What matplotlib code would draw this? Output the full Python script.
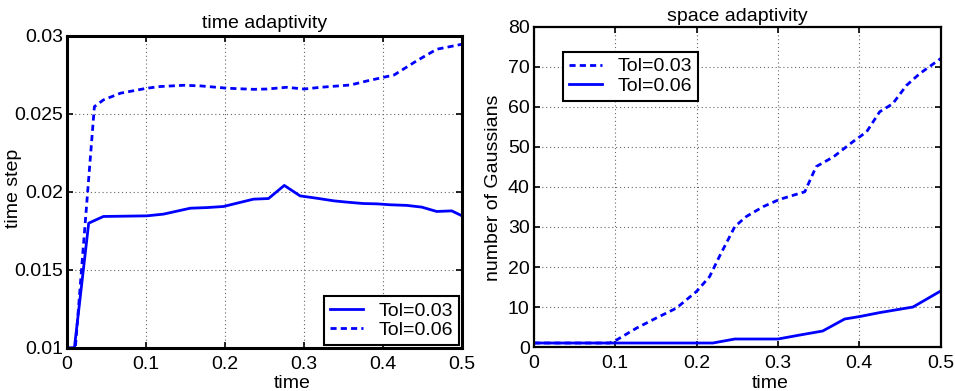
import matplotlib
matplotlib.use("Agg")
import matplotlib.pyplot as plt

plt.rcParams['font.family'] = ['Liberation Sans', 'DejaVu Sans']

# time adaptivity (left)
t_a = [0, 0.0093, 0.0274, 0.046, 0.101, 0.122, 0.156, 0.177, 0.198, 0.236, 0.255,
       0.275, 0.295, 0.316, 0.338, 0.354, 0.375, 0.392, 0.409, 0.430, 0.449, 0.468,
       0.487, 0.5]
dt_a = [0.01, 0.01, 0.0180, 0.01843, 0.01847, 0.01858, 0.01896, 0.0190, 0.01907,
        0.01954, 0.01958, 0.02042, 0.01975, 0.0196, 0.01943, 0.01935, 0.01926,
        0.01924, 0.01918, 0.01914, 0.01903, 0.01875, 0.01879, 0.01847]

t_b = [0, 0.0105, 0.0346, 0.046, 0.0675, 0.101, 0.118, 0.148, 0.169, 0.203, 0.236,
       0.253, 0.278, 0.300, 0.321, 0.359, 0.380, 0.405, 0.414, 0.443, 0.468, 0.5]
dt_b = [0.01, 0.01, 0.02547, 0.0259, 0.02633, 0.02665, 0.02676, 0.02684, 0.0268,
        0.02665, 0.02658, 0.0266, 0.02671, 0.0266, 0.02671, 0.02686, 0.02712,
        0.0274, 0.0275, 0.02842, 0.02915, 0.02947]

# space adaptivity (right)
t_c = [0, 0.093, 0.102, 0.126, 0.150, 0.175, 0.200, 0.216, 0.228, 0.247, 0.261,
       0.282, 0.302, 0.333, 0.347, 0.368, 0.392, 0.409, 0.425, 0.441, 0.458, 0.474,
       0.5]
ng_c = [1, 1, 1.8, 4.7, 7.2, 9.7, 13.9, 17.6, 22.6, 30.1, 32.6, 35.1, 36.9, 38.8,
        45.1, 47.5, 51.3, 53.8, 58.8, 60.8, 65.4, 68.3, 72.1]

t_d = [0, 0.220, 0.247, 0.300, 0.327, 0.355, 0.382, 0.400, 0.425, 0.466, 0.5]
ng_d = [1, 1, 2, 2, 3, 4, 7, 7.6, 8.6, 10, 14]

fs = 14
blue = '#0000ff'
lw = 2.0
dash = (0, (2.2, 1.5))

fig = plt.figure(figsize=(9.55, 3.91), dpi=100)
ax1 = fig.add_axes([0.0702, 0.110, 0.4136, 0.798])
ax2 = fig.add_axes([0.559, 0.1125, 0.426, 0.8185])

ax1.plot(t_a, dt_a, color=blue, lw=lw, label='Tol=0.03')
ax1.plot(t_b, dt_b, color=blue, lw=lw, linestyle=dash, label='Tol=0.06')
ax1.set_xlim(0, 0.5)
ax1.set_ylim(0.01, 0.03)
ax1.set_xticks([0, 0.1, 0.2, 0.3, 0.4, 0.5])
ax1.set_xticklabels(['0', '0.1', '0.2', '0.3', '0.4', '0.5'])
ax1.set_yticks([0.01, 0.015, 0.02, 0.025, 0.03])
ax1.set_yticklabels(['0.01', '0.015', '0.02', '0.025', '0.03'])
ax1.set_title('time adaptivity', fontsize=fs, pad=6)
ax1.set_xlabel('time', fontsize=fs)
ax1.set_ylabel('time step', fontsize=fs)
ax1.xaxis.set_label_coords(0.57, -0.088)
ax1.yaxis.set_label_coords(-0.114, 0.513)
ax1.legend(loc='lower right', fontsize=fs, frameon=True, fancybox=False,
           edgecolor='black', framealpha=1, handlelength=1.7,
           borderpad=0.3, labelspacing=0.1, borderaxespad=0.15)
for s in ax1.spines.values():
    s.set_linewidth(2.2)

ax2.plot(t_c, ng_c, color=blue, lw=lw, linestyle=dash, label='Tol=0.03')
ax2.plot(t_d, ng_d, color=blue, lw=lw, label='Tol=0.06')
ax2.set_xlim(0, 0.5)
ax2.set_ylim(0, 80)
ax2.set_xticks([0, 0.1, 0.2, 0.3, 0.4, 0.5])
ax2.set_xticklabels(['0', '0.1', '0.2', '0.3', '0.4', '0.5'])
ax2.set_yticks(range(0, 81, 10))
ax2.set_title('space adaptivity', fontsize=fs, pad=4)
ax2.set_xlabel('time', fontsize=fs)
ax2.set_ylabel('number of Gaussians', fontsize=fs)
ax2.xaxis.set_label_coords(0.582, -0.089)
ax2.yaxis.set_label_coords(-0.079, 0.497)
ax2.legend(loc='upper left', bbox_to_anchor=(0.071, 0.922), fontsize=fs,
           frameon=True, fancybox=False, edgecolor='black', framealpha=1,
           handlelength=1.7, borderpad=0.3, labelspacing=0.1, borderaxespad=0)
for s in ax2.spines.values():
    s.set_linewidth(1.6)

for ax in (ax1, ax2):
    ax.grid(True, linestyle=(0, (1, 2.5)), color='#666666', linewidth=0.8)
    ax.tick_params(direction='in', top=True, right=True, labelsize=fs,
                   length=4, width=1.2)
    ax.tick_params(axis='x', pad=6)
    ax.tick_params(axis='y', pad=3)
    ax.legend_.get_frame().set_linewidth(1.5)

fig.savefig('out.png', dpi=100)
